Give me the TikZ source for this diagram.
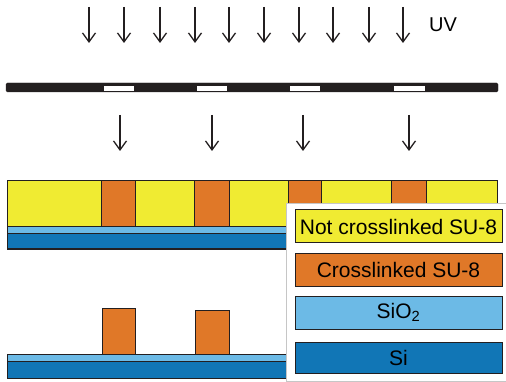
\documentclass[tikz,border=0pt]{standalone}
\usepackage{fontspec}
\setmainfont{Liberation Sans}
\usetikzlibrary{arrows.meta}
\definecolor{ink}{HTML}{231F20}
\definecolor{suyellow}{HTML}{F0EB32}
\definecolor{suorange}{HTML}{E07828}
\definecolor{oxblue}{HTML}{6CBAE6}
\definecolor{siblue}{HTML}{1176B6}
\tikzset{
  uvarrow/.style={draw=ink, line width=1.3pt, -{Straight Barb[length=9pt,width=13pt,line width=1.3pt]}},
  layer/.style={draw=ink, line width=1pt},
  legendbox/.style={draw=ink, line width=1pt, minimum width=207pt, minimum height=33pt, inner sep=0pt,
    font=\fontsize{21}{24}\selectfont, text=black},
}
\begin{document}
\begin{tikzpicture}[x=1pt,y=-1pt]
\useasboundingbox (0,0) rectangle (506,382);
% UV arrows
\foreach \i/\x in {1/89,2/124,3/160,4/195,5/229,6/264,7/299,8/333,9/369,10/403}{
  \coordinate (uvs\i) at (\x,7);
  \coordinate (uve\i) at (\x,43);
  \draw[uvarrow] (uvs\i) -- (uve\i);
}
\node[anchor=west, font=\fontsize{20}{24}\selectfont, inner sep=0pt] (uv) at (429,25) {UV};
% mask
\draw[fill=ink, draw=ink, rounded corners=1.5pt] (6,83) rectangle (498,92);
\foreach \a/\b in {103/134,196/227,289/320,393/425}{
  \draw[fill=white, draw=ink, line width=0.5pt] (\a,85) rectangle (\b,91);
}
% transmitted arrows
\foreach \i/\x in {1/120,2/212,3/303,4/409}{
  \coordinate (ts\i) at (\x,115);
  \coordinate (te\i) at (\x,151);
  \draw[uvarrow] (ts\i) -- (te\i);
}
% exposed stack
\draw[layer, fill=siblue] (7,234) rectangle (497,249);
\draw[layer, fill=oxblue] (7,227) rectangle (497,234);
\draw[layer, fill=suyellow] (7,181) rectangle (497,227);
\foreach \a/\b in {101/135,194/229,288/321,391/426}{
  \draw[layer, fill=suorange] (\a,181) rectangle (\b,227);
}
% developed stack
\draw[layer, fill=siblue] (7,361) rectangle (497,378);
\draw[layer, fill=oxblue] (7,354) rectangle (497,361);
\draw[layer, fill=suorange] (102,308) rectangle (135,354);
\draw[layer, fill=suorange] (195,310) rectangle (229,354);
% legend
\draw[fill=white, draw=gray!45, line width=0.8pt] (286,203) rectangle (508,381);
\node[legendbox, fill=suyellow] (l1) at (398.5,226.5) {Not crosslinked SU-8};
\node[legendbox, fill=suorange] (l2) at (398.5,270) {Crosslinked SU-8};
\node[legendbox, fill=oxblue] (l3) at (398.5,312.5) {SiO\textsubscript{2}};
\node[legendbox, fill=siblue, minimum height=31pt] (l4) at (398.5,357.5) {Si};
\end{tikzpicture}
\end{document}
